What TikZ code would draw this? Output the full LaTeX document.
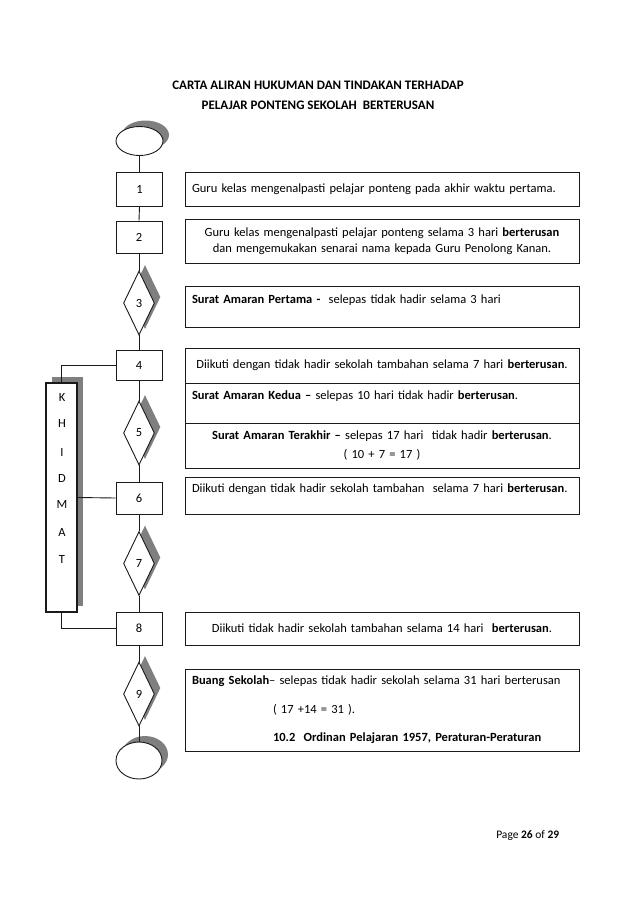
\documentclass[tikz,border=0pt]{standalone}
\usepackage{fontspec}
\setmainfont{Carlito}
\usetikzlibrary{shapes.geometric,shadows}
\definecolor{shade}{HTML}{7F7F7F}
\definecolor{ink}{HTML}{1A1A1A}

\begin{document}
\begin{tikzpicture}[x=1pt,y=-1pt,font=\fontsize{12.5}{15}\selectfont,line width=0.9pt,
  sh/.style={drop shadow={shadow xshift=6pt,shadow yshift=6pt,opacity=1,fill=shade}},
  numbox/.style={draw=ink,fill=white,minimum width=46pt,minimum height=#1,inner sep=0pt},
  choice/.style={diamond,draw=ink,fill=white,sh,minimum width=31pt,minimum height=64pt,inner sep=0pt},
  term/.style={ellipse,draw=ink,fill=white,sh,minimum width=47pt,minimum height=#1,inner sep=0pt},
  note/.style={draw=ink,minimum width=394pt,minimum height=#1,text width=380pt,inner xsep=7pt,inner ysep=0pt}]
  \useasboundingbox (0,0) rectangle (638,903);
  % ----- title -----
  \node[font=\fontsize{13}{15}\selectfont\bfseries] (title1) at (318,85){CARTA ALIRAN HUKUMAN DAN TINDAKAN TERHADAP};
  \node[font=\fontsize{13}{15}\selectfont\bfseries] (title2) at (318,105){PELAJAR PONTENG SEKOLAH\ \ BERTERUSAN};
  % ----- flow -----
  \node[term=29pt] (start) at (139.5,141){};
  \node[numbox=34pt] (b1) at (139.5,189){1};
  \node[numbox=32pt] (b2) at (139,237){2};
  \node[choice] (d3) at (139,303){3};
  \node[numbox=30pt] (b4) at (139,365.5){4};
  \node[choice] (d5) at (139,433){5};
  \node[numbox=32pt] (b6) at (139,498){6};
  \node[choice] (d7) at (139,563.5){7};
  \node[numbox=33pt] (b8) at (139,628.5){8};
  \node[choice] (d9) at (139,694){9};
  \node[term=37pt,minimum width=46pt] (stop) at (139,760.5){};
  \foreach \a/\b in {start/b1,b1/b2,b2/d3,d3/b4,b4/d5,d5/b6,b6/d7,d7/b8,b8/d9,d9/stop}
    \draw[ink] (\a.south) -- (\b.north);
  % ----- khidmat -----
  \node[draw=ink,fill=white,sh,line width=1.8pt,minimum width=31pt,minimum height=229pt,inner sep=0pt] (khidmat) at (61.5,497.5){};
  \foreach \c/\yy [count=\i] in {K/397,H/423,I/452,D/478,M/504,A/532,T/559}
    \node (k\i) at (62,\yy){\c};
  \draw[ink] (b4.west) -| (khidmat.north);
  \draw[ink] (khidmat.east) -- (b6.west);
  \draw[ink] (khidmat.south) |- (b8.west);
  % ----- notes -----
  \node[note=34pt,align=left] (t1) at (382,189){Guru kelas mengenalpasti pelajar ponteng\ pada akhir waktu pertama.};
  \node[note=44pt,align=center] (t2) at (382,241){Guru kelas mengenalpasti pelajar ponteng selama 3 hari \textbf{berterusan}\\[1pt]dan mengemukakan senarai nama kepada Guru Penolong Kanan.};
  \node[note=41pt,align=left] (t3) at (382,306.5){\textbf{Surat Amaran Pertama -}\ \ selepas tidak hadir selama 3 hari\\ \mbox{}};
  \node[note=35pt,align=center] (t4) at (382,365.5){Diikuti dengan tidak hadir sekolah tambahan selama 7 hari \textbf{berterusan}.};
  \node[note=40pt,align=left] (t5a) at (382,403){\textbf{Surat Amaran Kedua --} selepas 10 hari tidak hadir \textbf{berterusan}.\\ \mbox{}};
  \node[note=45pt,align=center] (t5b) at (382,445.5){\textbf{Surat Amaran Terakhir --} selepas 17 hari\ \ tidak hadir \textbf{berterusan}.\\[4pt]( 10 + 7 = 17 )};
  \node[note=37pt,align=left] (t6) at (382,495.5){Diikuti dengan tidak hadir sekolah tambahan\ \ selama 7 hari \textbf{berterusan}.\\ \mbox{}};
  \node[note=33pt,align=center] (t8) at (382,628.5){Diikuti tidak hadir sekolah tambahan selama 14 hari\ \ \textbf{berterusan}.};
  \node[note=82pt,align=left] (t9) at (382,710){\textbf{Buang Sekolah}-- selepas tidak hadir sekolah selama 31 hari berterusan\\[13.5pt]
    \hspace*{81pt}( 17 +14 = 31 ).\\[13.5pt]
    \hspace*{81pt}\textbf{10.2\ \ Ordinan Pelajaran 1957, Peraturan-Peraturan}};
  % ----- footer -----
  \node[anchor=east,font=\fontsize{11.5}{13}\selectfont] (page) at (563,836){Page \textbf{26} of \textbf{29}};
\end{tikzpicture}
\end{document}
